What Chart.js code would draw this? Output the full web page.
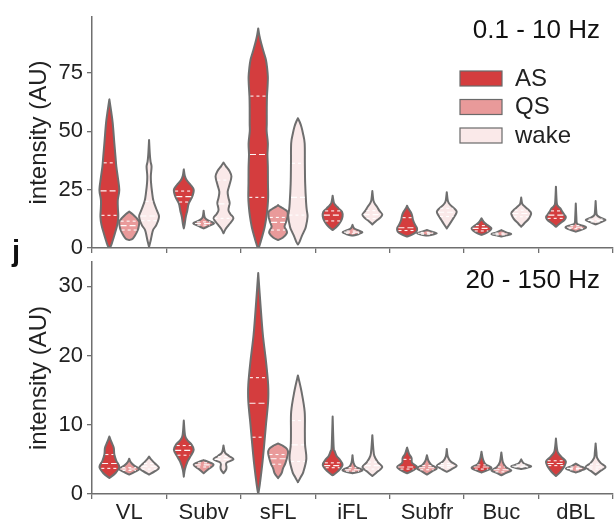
<!DOCTYPE html>
<html>
<head>
<meta charset="utf-8">
<script src="https://cdn.jsdelivr.net/npm/chart.js@4"></script>
<style>
  body { margin: 0; background: #fff; }
  #wrap { position: relative; width: 614px; height: 520px; }
  #topBox { position: absolute; left: 0; top: 0; }
  #botBox { position: absolute; left: 0; top: 255px; }
  #panelJ { position: absolute; left: 12px; top: 235px; font: bold 29px "Liberation Sans", Arial, sans-serif; color: #111; }
</style>
</head>
<body>
<div id="wrap">
  <div id="topBox"><canvas id="lowChart" width="614" height="255"></canvas></div>
  <div id="botBox"><canvas id="highChart" width="614" height="265"></canvas></div>
  <div id="panelJ">j</div>
</div>
<script>
var categories = ['VL', 'Subv', 'sFL', 'iFL', 'Subfr', 'Buc', 'dBL'];
var groups = ['AS', 'QS', 'wake'];
var groupColors = ['#d43d3e', '#e99a9a', '#fae9e9'];

// violin outlines, [intensity, relative density] from bottom to top
var lowAS = [
  [[0,0.05],[2,0.25],[6.4,0.57],[10,0.8],[13.4,0.9],[17,0.86],[20.6,0.85],[24.9,1],[30,0.86],[35,0.7],[39,0.62],[45,0.5],[53.4,0.34],[58,0.2],[63.7,0]],
  [[8.4,0],[10,0.08],[13.4,0.2],[16,0.35],[19.1,0.5],[22,0.85],[24.9,1],[27,0.7],[29,0.3],[31,0.1],[33.7,0]],
  [[0,0.05],[2,0.2],[4.9,0.4],[9,0.65],[13.4,0.83],[18,0.95],[22,1],[28,0.98],[34.9,0.97],[40,0.93],[44.9,0.97],[50,0.85],[53.4,0.86],[60,0.86],[64.8,0.88],[70,0.95],[73.4,0.97],[77,0.9],[80.6,0.78],[84,0.55],[87.7,0.3],[91,0.12],[94.1,0]],
  [[7.7,0],[8.7,0.3],[10,0.6],[11.6,0.85],[13.5,1],[15.5,0.95],[17,0.6],[18.3,0.3],[19.5,0.12],[22.4,0]],
  [[4.9,0],[5.7,0.5],[7,0.95],[8.5,1],[10,0.8],[12,0.6],[14,0.5],[15.5,0.35],[17,0.12],[18.1,0]],
  [[5.6,0],[6.5,0.5],[7.5,0.85],[8.4,1],[9.5,0.7],[10.8,0.3],[12.7,0]],
  [[9.1,0],[10.5,0.4],[12,0.85],[13.3,1],[14.5,0.8],[15.5,0.65],[17,0.45],[18,0.2],[19.5,0.08],[26.3,0]]
];
var lowQS = [
  [[3.4,0],[4,0.35],[5.5,0.6],[7.5,0.85],[9.5,0.97],[11.3,1],[13,0.7],[14.5,0.35],[15.6,0]],
  [[8.4,0],[9.2,0.4],[10.2,0.95],[10.8,1],[11.8,0.45],[12.8,0.15],[14,0.06],[16,0]],
  [[3.4,0],[4.5,0.5],[6.3,0.88],[7.5,0.85],[9.1,0.65],[11,0.8],[13.4,0.95],[15.5,0.95],[16.7,0.6],[17.7,0.2],[18.4,0]],
  [[5.3,0],[5.8,0.5],[6.7,1],[7.5,0.6],[8.5,0.15],[9.9,0]],
  [[5.3,0],[5.8,0.6],[6.3,1],[6.9,0.6],[7.7,0]],
  [[4.9,0],[5.4,0.5],[6,1],[6.6,0.55],[7.7,0]],
  [[7,0],[7.7,0.5],[8.5,0.95],[9.1,1],[9.8,0.5],[10.5,0.12],[13,0.06],[19.1,0]]
];
var lowWake = [
  [[0.5,0],[3,0.15],[5,0.25],[7.7,0.4],[10,0.75],[13.4,1],[16,0.8],[20,0.45],[24,0.3],[28,0.2],[31,0.18],[34.9,0.25],[37,0.15],[40,0.08],[46.3,0]],
  [[6.3,0],[8,0.2],[10,0.55],[12.7,1],[14.5,0.7],[16.3,0.5],[19.3,0.62],[21.5,0.5],[24.1,0.42],[27,0.6],[30.6,0.8],[33,0.6],[35,0.25],[36.6,0]],
  [[1.5,0],[2.5,0.15],[4.9,0.37],[7,0.6],[9.1,0.8],[13.4,0.97],[16,0.9],[19.1,0.83],[27.7,0.73],[36.3,0.7],[44.9,0.68],[49.3,0.5],[52,0.35],[54,0.18],[55.6,0]],
  [[10.1,0],[11.5,0.35],[13,0.8],[14.4,1],[16,0.7],[17.5,0.5],[19,0.25],[20.5,0.1],[24.4,0]],
  [[8.4,0],[10,0.25],[12,0.55],[14,0.85],[15.6,1],[17,0.75],[18.5,0.35],[20,0.12],[23.9,0]],
  [[9.1,0],[10.5,0.3],[12.5,0.75],[14.9,1],[16.5,0.7],[18,0.3],[19,0.1],[21.6,0]],
  [[10.1,0],[11,0.5],[12,1],[12.8,0.6],[14,0.15],[16,0.06],[20.1,0]]
];
var highAS = [
  [[2.3,0],[3,0.6],[3.9,1],[4.8,0.7],[5.7,0.5],[6.6,0.45],[7.2,0.3],[7.8,0.12],[8.3,0]],
  [[2.5,0],[3.5,0.1],[4.7,0.38],[5.5,0.7],[6.4,1],[7.2,0.75],[7.8,0.35],[8.5,0.12],[10.6,0]],
  [[0,0],[1.3,0.15],[4.2,0.4],[7.1,0.6],[10,0.78],[13.4,1],[15.8,1],[19.2,0.78],[23.1,0.46],[27.9,0.2],[31.9,0]],
  [[2.7,0],[3.3,0.55],[4.2,1],[5,0.7],[5.5,0.4],[6.2,0.2],[6.8,0.1],[11.2,0]],
  [[3,0],[3.4,0.6],[3.9,1],[4.5,0.5],[5.2,0.45],[5.8,0.2],[6.7,0]],
  [[3.1,0],[3.4,0.55],[3.8,1],[4.3,0.4],[5,0.15],[6.1,0]],
  [[2.6,0],[3.2,0.45],[4,0.85],[4.7,1],[5.3,0.6],[6,0.2],[6.8,0.08],[8,0]]
];
var highQS = [
  [[2.8,0],[3.2,0.55],[3.6,1],[4.1,0.5],[4.6,0.15],[5.1,0]],
  [[3,0],[3.6,0.5],[4.2,1],[4.6,0.55],[4.9,0]],
  [[2.3,0],[3,0.35],[3.7,0.5],[4.5,0.75],[5.9,1],[6.5,0.9],[7,0.45],[7.3,0]],
  [[3,0],[3.4,1],[3.9,0.35],[4.5,0.1],[5.6,0]],
  [[2.8,0],[3.3,0.55],[3.7,1],[4.2,0.45],[4.8,0.15],[5.6,0]],
  [[2.7,0],[3.1,0.55],[3.4,1],[3.9,0.45],[4.6,0.15],[6,0]],
  [[3.1,0],[3.4,0.55],[3.7,1],[4,0.45],[4.4,0]]
];
var highWake = [
  [[2.8,0],[3.3,0.6],[3.8,1],[4.4,0.6],[5,0.2],[5.4,0]],
  [[3,0],[3.5,0.25],[3.9,0.3],[4.5,0.3],[5,1],[5.5,0.55],[6,0.15],[7,0]],
  [[1.7,0],[2.5,0.3],[3.2,0.55],[5.1,0.85],[7.1,0.72],[9,0.7],[11.9,0.68],[14.8,0.36],[17.1,0]],
  [[2.6,0],[3.2,0.5],[3.9,1],[4.6,0.55],[5.5,0.2],[6.5,0.1],[8.5,0]],
  [[3.2,0],[3.6,0.5],[4.1,1],[4.7,0.4],[5.4,0.1],[6.5,0]],
  [[3.6,0],[3.8,0.6],[4,1],[4.3,0.4],[4.6,0.15],[5,0]],
  [[2.8,0],[3.3,0.45],[3.9,1],[4.5,0.5],[5.2,0.15],[6,0.08],[7.3,0]]
];

// quartiles [q1, median, q3]
var lowASq = [[14,24.5,36.5],[19.7,22,24.4],[21.7,40.1,65.1],[11.6,14.1,15.9],[7.5,8.7,13],[7.3,8.4,9.6],[12.7,14.1,15.9]];
var lowQSq = [[7.7,9.6,11.5],[9.8,10.5,11.2],[7.7,11,13.1],[6.3,6.8,7.3],[5.9,6.3,6.7],[5.6,6,6.4],[8.3,8.9,9.6]];
var lowWakeq = [[11.7,13.7,20],[12.7,18.9,29.1],[14.1,21.7,36.3],[12.6,14.3,16],[13.5,15.3,17],[13.4,14.8,16.2],[11.2,11.8,12.4]];
var highASq = [[3.7,4.4,5.7],[5.6,6.3,7.0],[8.2,13.1,16.8],[3.8,4.1,4.5],[3.6,3.9,5.0],[3.6,3.9,4.2],[4.1,4.4,4.8]];
var highQSq = [[3.4,3.6,3.8],[3.9,4.2,4.5],[4.3,5.1,5.7],[3.3,3.5,3.8],[3.5,3.8,4.1],[3.2,3.5,3.9],[3.5,3.7,3.9]];
var highWakeq = [[3.6,4,4.4],[4.5,5,5.4],[4.7,7.1,10.6],[3.6,4.1,4.6],[3.8,4.1,4.4],[3.9,4,4.2],[3.6,3.9,4.3]];

var lowTicks = [0, 25, 50, 75];
var highTicks = [0, 10, 20, 30];

var FONT = '"Liberation Sans", Arial, sans-serif';
var TEXT = '#222';
var AXIS = '#6f6f6f';
var OUTLINE = '#6e6e6e';

function widthAt(profile, v) {
  for (var i = 0; i < profile.length - 1; i++) {
    var a = profile[i], b = profile[i + 1];
    if (v >= a[0] && v <= b[0]) {
      return a[1] + (b[1] - a[1]) * (v - a[0]) / (b[0] - a[0]);
    }
  }
  return 0;
}

// catmull-rom through the points as bezier segments
function spline(ctx, pts) {
  for (var i = 0; i < pts.length - 1; i++) {
    var p0 = pts[i - 1] || pts[i], p1 = pts[i], p2 = pts[i + 1], p3 = pts[i + 2] || p2;
    ctx.bezierCurveTo(
      p1.x + (p2.x - p0.x) / 6, p1.y + (p2.y - p0.y) / 6,
      p2.x - (p3.x - p1.x) / 6, p2.y - (p3.y - p1.y) / 6,
      p2.x, p2.y);
  }
}

function noOverhang(s) {
  s.paddingTop = 0;
  s.paddingBottom = 0;
  s.paddingLeft = 0;
  s.paddingRight = 0;
}

var violinPlugin = {
  id: 'violins',
  beforeDatasetsDraw: function (chart) {
    var ctx = chart.ctx, y = chart.scales.y, area = chart.chartArea;
    var shapes = chart.options.plugins.violins.shapes;
    var quarts = chart.options.plugins.violins.quartiles;
    ctx.save();
    ctx.beginPath();
    ctx.rect(area.left, area.top - 2, area.right - area.left, area.bottom - area.top + 2);
    ctx.clip();
    chart.data.datasets.forEach(function (ds, d) {
      var meta = chart.getDatasetMeta(d);
      meta.data.forEach(function (bar, i) {
        var cx = bar.x, half = bar.width / 2;
        var prof = shapes[d][i];
        var right = prof.map(function (p) { return { x: cx + p[1] * half, y: y.getPixelForValue(p[0]) }; });
        var left = right.slice().reverse().map(function (p) { return { x: 2 * cx - p.x, y: p.y }; });
        ctx.beginPath();
        ctx.moveTo(right[0].x, right[0].y);
        spline(ctx, right);
        ctx.lineTo(left[0].x, left[0].y);
        spline(ctx, left);
        ctx.closePath();
        ctx.fillStyle = ds.backgroundColor;
        ctx.fill();
        ctx.lineWidth = 2;
        ctx.strokeStyle = OUTLINE;
        ctx.lineJoin = 'round';
        ctx.stroke();

        // quartile lines
        quarts[d][i].forEach(function (q, k) {
          var w = widthAt(prof, q) * half;
          var py = y.getPixelForValue(q);
          ctx.beginPath();
          ctx.setLineDash(k === 1 ? [6, 3] : [3, 3]);
          ctx.moveTo(cx - w + 1, py);
          ctx.lineTo(cx + w - 1, py);
          ctx.strokeStyle = 'rgba(255,255,255,0.95)';
          ctx.lineWidth = 1.1;
          ctx.stroke();
          ctx.setLineDash([]);
        });
      });
    });
    ctx.restore();
    return false;
  },
  afterDraw: function (chart) {
    var ctx = chart.ctx, opts = chart.options.plugins.violins;
    ctx.save();
    ctx.fillStyle = '#111';
    ctx.font = '26px ' + FONT;
    ctx.textAlign = 'right';
    ctx.textBaseline = 'middle';
    ctx.fillText(opts.band, 600, opts.bandY);
    if (opts.legend) {
      chart.data.datasets.forEach(function (ds, d) {
        var by = 71 + d * 28.5;
        ctx.fillStyle = ds.backgroundColor;
        ctx.fillRect(460, by, 42, 15);
        ctx.strokeStyle = '#6a6a6a';
        ctx.lineWidth = 1.2;
        ctx.strokeRect(460, by, 42, 15);
        ctx.fillStyle = TEXT;
        ctx.font = '24px ' + FONT;
        ctx.textAlign = 'left';
        ctx.fillText(ds.label, 515, by + 8);
      });
    }
    ctx.restore();
  }
};

function makeChart(id, shapes, quarts, ticks, maxY, opts) {
  var datasets = groups.map(function (g, d) {
    return {
      label: g,
      data: quarts[d].map(function (q) { return q[1]; }),
      backgroundColor: groupColors[d]
    };
  });
  return new Chart(document.getElementById(id).getContext('2d'), {
    type: 'bar',
    data: { labels: categories, datasets: datasets },
    options: {
      responsive: false,
      animation: false,
      layout: { padding: { top: opts.padTop, right: 1, left: 0, bottom: 0 } },
      datasets: { bar: { categoryPercentage: 0.8, barPercentage: 1 } },
      scales: {
        x: {
          grid: { drawOnChartArea: false, drawTicks: true, tickLength: 5, color: AXIS, lineWidth: 1.3 },
          border: { display: true, color: AXIS, width: 1.5 },
          ticks: { display: opts.xLabels, color: TEXT, font: { family: FONT, size: 22 }, padding: 1 },
          afterFit: function (s) { s.height = opts.xHeight; noOverhang(s); }
        },
        y: {
          min: 0,
          max: maxY,
          grid: { drawOnChartArea: false, drawTicks: true, tickLength: 5, color: AXIS, lineWidth: 1.3 },
          border: { display: true, color: AXIS, width: 1.5 },
          ticks: { color: TEXT, font: { family: FONT, size: 22 }, padding: 4 },
          afterBuildTicks: function (s) {
            s.ticks = ticks.map(function (t) { return { value: t }; });
          },
          title: { display: true, text: 'intensity (AU)', color: TEXT, font: { family: FONT, size: 24 }, padding: { top: 25, bottom: 0 } },
          afterFit: function (s) { s.width = 92; noOverhang(s); }
        }
      },
      plugins: {
        legend: { display: false },
        tooltip: { enabled: false },
        violins: { shapes: shapes, quartiles: quarts, band: opts.band, bandY: opts.bandY, legend: opts.legend }
      }
    },
    plugins: [violinPlugin]
  });
}

makeChart('lowChart', [lowAS, lowQS, lowWake], [lowASq, lowQSq, lowWakeq], lowTicks, 99,
  { padTop: 17, xHeight: 7, xLabels: false, band: '0.1 - 10 Hz', bandY: 31, legend: true });
makeChart('highChart', [highAS, highQS, highWake], [highASq, highQSq, highWakeq], highTicks, 33.5,
  { padTop: 7, xHeight: 26, xLabels: true, band: '20 - 150 Hz', bandY: 26, legend: false });
</script>
</body>
</html>
